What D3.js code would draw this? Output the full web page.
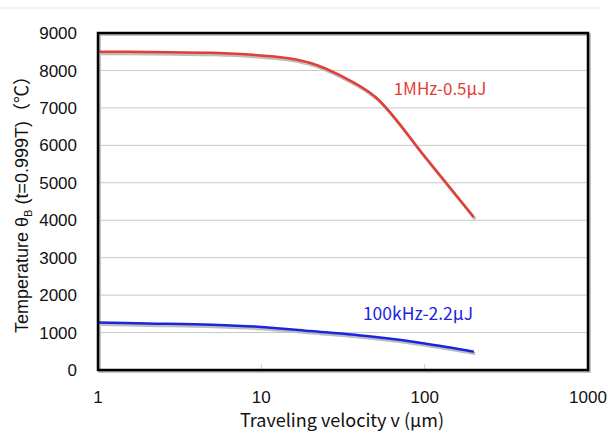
<!DOCTYPE html>
<html><head><meta charset="utf-8">
<script src="https://cdn.jsdelivr.net/npm/d3@7"></script>
<style>body{margin:0;background:#fff;overflow:hidden}</style>
</head><body>
<svg id="c" width="608" height="434"></svg>
<script>
const xTicks = [1, 10, 100, 1000];
const yTicks = [0,1000,2000,3000,4000,5000,6000,7000,8000,9000];
const redV = [1, 2, 5, 10, 15, 20, 30, 50, 100, 200];
const redT = [8500, 8495, 8470, 8400, 8320, 8200, 7880, 7290, 5700, 4080];
const blueV = [1, 2, 5, 10, 20, 50, 100, 200];
const blueT = [1270, 1245, 1210, 1150, 1040, 880, 710, 490];
const redLabel = "1MHz-0.5μJ";
const blueLabel = "100kHz-2.2μJ";

const svg = d3.select("#c");
const L = 98, R = 588, T = 33, B = 370;
const x = d3.scaleLog().domain([1, 1000]).range([L, R]);
const y = d3.scaleLinear().domain([0, 9000]).range([B, T]);

svg.append("line").attr("x1",0).attr("x2",600).attr("y1",8).attr("y2",8)
  .attr("stroke","#e6e6e6").attr("stroke-width",1);

svg.append("g").selectAll("line").data(yTicks.filter(d=>d>0 && d<9000)).join("line")
  .attr("x1",L).attr("x2",R).attr("y1",d=>y(d)).attr("y2",d=>y(d))
  .attr("stroke","#c8c8c8").attr("stroke-width",1);

svg.append("g").selectAll("line").data([10,100]).join("line")
  .attr("x1",d=>x(d)).attr("x2",d=>x(d)).attr("y1",B-6).attr("y2",B)
  .attr("stroke","#cfcfcf").attr("stroke-width",1);

svg.append("rect").attr("x",L+1.5).attr("y",T+1.5).attr("width",R-L).attr("height",B-T)
  .attr("fill","none").attr("stroke","#b0b0b0").attr("stroke-width",2.5);

const line = d3.line().x(d=>x(d[0])).y(d=>y(d[1])).curve(d3.curveMonotoneX);
const red = redV.map((v,i)=>[v,redT[i]]);
const blue = blueV.map((v,i)=>[v,blueT[i]]);

[[red,"#e53c35"],[blue,"#1c24e0"]].forEach(([data,col])=>{
  svg.append("path").attr("d",line(data)).attr("fill","none")
    .attr("stroke","#bdbdbd").attr("stroke-width",3).attr("transform","translate(1.5,2)");
  svg.append("path").attr("d",line(data)).attr("fill","none")
    .attr("stroke",col).attr("stroke-width",2.5);
});

svg.append("rect").attr("x",L).attr("y",T).attr("width",R-L).attr("height",B-T)
  .attr("fill","none").attr("stroke","#000").attr("stroke-width",2.5);

const font = "'Liberation Sans', Arial, sans-serif";
svg.append("g").selectAll("text").data(yTicks).join("text")
  .attr("x",77).attr("y",d=>y(d)).attr("dy","0.36em").attr("text-anchor","end")
  .attr("font-family",font).attr("font-size",17).attr("fill","#111").text(d=>d);
svg.append("g").selectAll("text").data(xTicks).join("text")
  .attr("x",d=>x(d)).attr("y",397).attr("dy","0.36em").attr("text-anchor","middle")
  .attr("font-family",font).attr("font-size",17).attr("fill","#111").text(d=>d);

const jfont = "'Noto Sans CJK JP', sans-serif";
svg.append("text").attr("x",342).attr("y",421).attr("dy","0.36em").attr("text-anchor","middle")
  .attr("font-family",jfont).attr("font-size",18).attr("fill","#111")
  .text("Traveling velocity v (μm)");

const yt = svg.append("text").attr("transform","translate(22,200) rotate(-90)")
  .attr("text-anchor","middle").attr("dy","0.36em")
  .attr("font-family",font).attr("font-size",18).attr("fill","#111");
yt.append("tspan").text("Temperature θ");
yt.append("tspan").attr("font-size",11).attr("dy","4").text("B");
yt.append("tspan").attr("dy","-4").text(" (t=0.999T)");
yt.append("tspan").attr("font-family",jfont).text("（℃）");

svg.append("text").attr("x",440).attr("y",89).attr("dy","0.36em").attr("text-anchor","middle")
  .attr("font-family",jfont).attr("font-size",17).attr("fill","#e53c35").text(redLabel);
svg.append("text").attr("x",418).attr("y",314).attr("dy","0.36em").attr("text-anchor","middle")
  .attr("font-family",jfont).attr("font-size",17.5).attr("fill","#1c24e0").text(blueLabel);
</script>
</body></html>
